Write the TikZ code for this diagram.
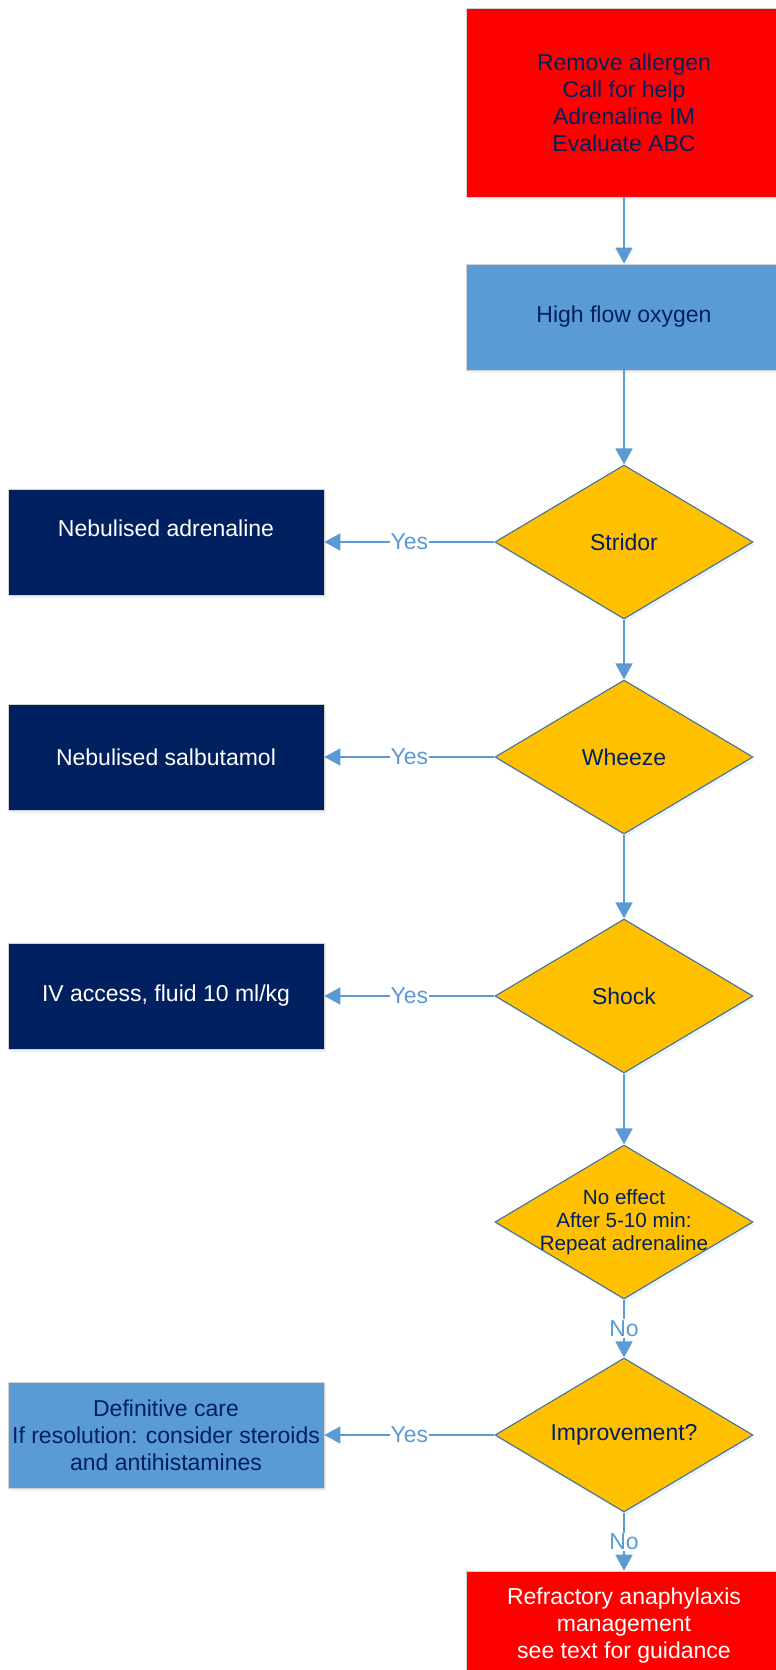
\documentclass[tikz,border=0pt]{standalone}
\usepackage{fontspec}
\setmainfont{Liberation Sans}
\usetikzlibrary{shapes.geometric,arrows.meta,shadows}
\definecolor{navy}{HTML}{002060}
\definecolor{midblue}{HTML}{5B9BD5}
\definecolor{amber}{HTML}{FFC000}
\definecolor{dborder}{HTML}{41719C}
\definecolor{pureRed}{HTML}{FF0000}
\tikzset{
  softshadow/.style={drop shadow={shadow xshift=2pt, shadow yshift=-3pt, fill=midblue, opacity=0.12}},
  box/.style={rectangle, minimum width=316pt, minimum height=106pt, inner sep=0pt,
    draw=gray!35, line width=0.6pt, align=center,
    font=\fontsize{23}{27}\selectfont, softshadow},
  redbox/.style={box, fill=pureRed},
  bluebox/.style={box, fill=midblue, text=navy},
  navybox/.style={box, fill=navy, text=white},
  dec/.style={diamond, minimum width=258pt, minimum height=154pt, inner sep=0pt,
    fill=amber, draw=dborder, line width=1.1pt, softshadow},
  dtext/.style={text=navy, align=center, font=\fontsize{23}{27}\selectfont},
  conn/.style={draw=midblue, line width=1.6pt, -{Triangle[length=16pt,width=17pt]}},
  elab/.style={fill=white, inner sep=1pt, text=midblue, font=\fontsize{23}{27}\selectfont}
}
\begin{document}
\begin{tikzpicture}[x=1pt,y=-1pt]
\useasboundingbox (0,0) rectangle (776,1670);
\node[redbox, text=navy, minimum height=189pt] (start) at (624,102.5)
  {Remove allergen\\Call for help\\Adrenaline IM\\Evaluate ABC};
\node[bluebox] (oxy) at (624,317) {High flow oxygen};
\node[dec, label={[dtext]center:Stridor}] (stridor) at (624,542) {};
\node[navybox] (nebad) at (166,542) {};
\node[text=white, font=\fontsize{23}{27}\selectfont] (nebadt) at (166,528.5) {Nebulised adrenaline};
\node[dec, label={[dtext]center:Wheeze}] (wheeze) at (624,757) {};
\node[navybox] (nebsal) at (166,757) {Nebulised salbutamol};
\node[dec, label={[dtext]center:Shock}] (shock) at (624,996) {};
\node[navybox] (iv) at (166,996) {IV access, fluid 10 ml/kg};
\node[dec, label={[dtext, font=\fontsize{20.6}{23}\selectfont]center:No effect\\After 5-10 min:\\Repeat adrenaline}] (noeff) at (624,1222) {};
\node[dec, label={[dtext]center:Improvement?}] (impr) at (624,1435) {};
\node[bluebox] (defc) at (166,1435)
  {Definitive care\\If resolution: consider steroids\\and antihistamines};
\node[redbox, text=white, minimum height=110pt] (refr) at (624,1626)
  {Refractory anaphylaxis\\management\\see text for guidance};

\draw[conn] (start) -- (oxy);
\draw[conn] (oxy) -- (stridor);
\draw[conn] (stridor) -- node[elab] {Yes} (nebad);
\draw[conn] (stridor) -- (wheeze);
\draw[conn] (wheeze) -- node[elab] {Yes} (nebsal);
\draw[conn] (wheeze) -- (shock);
\draw[conn] (shock) -- node[elab] {Yes} (iv);
\draw[conn] (shock) -- (noeff);
\draw[conn] (noeff) -- node[elab] {No} (impr);
\draw[conn] (impr) -- node[elab] {Yes} (defc);
\draw[conn] (impr) -- node[elab] {No} (refr);
\end{tikzpicture}
\end{document}
